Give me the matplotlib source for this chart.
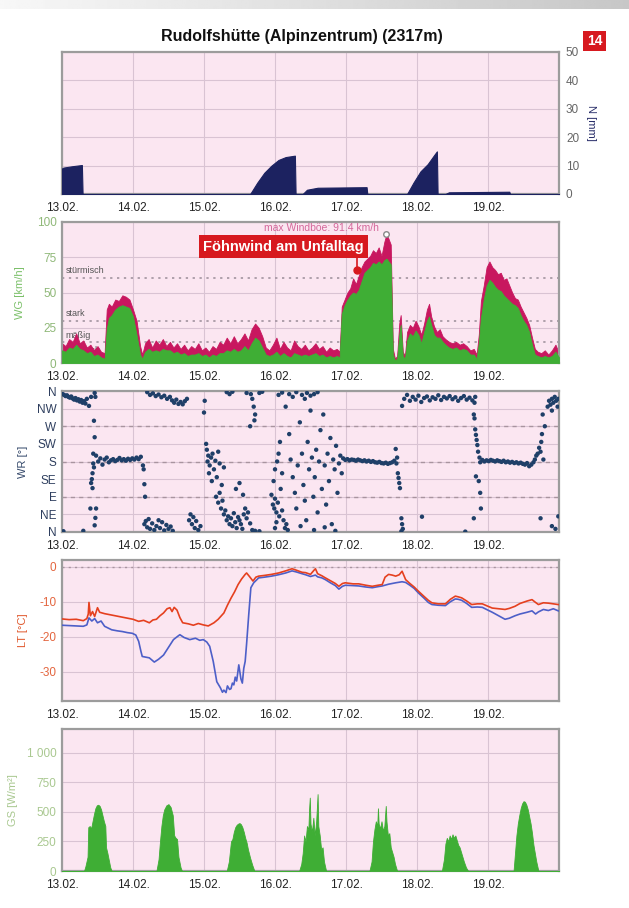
import numpy as np
import matplotlib.pyplot as plt

plt.rcParams['font.family'] = ['Liberation Sans', 'DejaVu Sans']
plt.rcParams['axes.unicode_minus'] = False

days = ['13.02.', '14.02.', '15.02.', '16.02.', '17.02.', '18.02.', '19.02.']

# Niederschlag, Tage ab 13.02. 00:00
n_t = [0.0, 0.02, 0.15, 0.28, 0.29, 2.65, 2.75, 2.85, 2.95, 3.05, 3.15, 3.28, 3.29, 3.39, 3.45, 3.6,
       4.29, 4.30, 4.86, 4.95, 5.05, 5.15, 5.25, 5.28, 5.29, 5.4, 5.45, 6.3, 6.31, 7.0]
n_mm = [9, 9.3, 9.8, 10.2, 0, 0, 4, 7.5, 10, 12, 13, 13.5, 0, 0, 1.5, 2.2,
        2.4, 0, 0, 4, 8, 10.5, 14, 15, 0, 0, 0.6, 0.8, 0, 0]

# Wind: Zeit, Böen, Mittel
wg_t = [0.0, 0.05, 0.1, 0.15, 0.2, 0.25, 0.3, 0.35, 0.4, 0.45,
        0.5, 0.55, 0.6, 0.63, 0.66, 0.7, 0.75, 0.8, 0.85, 0.9,
        0.95, 1.0, 1.05, 1.1, 1.13, 1.17, 1.22, 1.27, 1.32, 1.37,
        1.42, 1.47, 1.52, 1.57, 1.62, 1.67, 1.72, 1.77, 1.82, 1.87,
        1.92, 1.97, 2.02, 2.07, 2.12, 2.17, 2.22, 2.27, 2.32, 2.37,
        2.42, 2.47, 2.52, 2.57, 2.62, 2.67, 2.72, 2.77, 2.82, 2.87,
        2.92, 2.97, 3.02, 3.07, 3.12, 3.17, 3.22, 3.27, 3.32, 3.37,
        3.42, 3.47, 3.52, 3.57, 3.62, 3.67, 3.72, 3.77, 3.82, 3.87,
        3.91, 3.94, 3.98, 4.02, 4.06, 4.1, 4.14, 4.18, 4.22, 4.26,
        4.3, 4.34, 4.38, 4.42, 4.46, 4.5, 4.54, 4.57, 4.6, 4.63,
        4.66, 4.69, 4.72, 4.75, 4.77, 4.8, 4.83, 4.86, 4.9, 4.94,
        4.98, 5.02, 5.06, 5.1, 5.14, 5.17, 5.2, 5.24, 5.28, 5.32,
        5.36, 5.4, 5.45, 5.5, 5.55, 5.6, 5.65, 5.7, 5.75, 5.8,
        5.84, 5.87, 5.9, 5.94, 5.98, 6.02, 6.06, 6.1, 6.14, 6.18,
        6.22, 6.26, 6.3, 6.34, 6.38, 6.42, 6.46, 6.5, 6.54, 6.58,
        6.62, 6.66, 6.7, 6.75, 6.8, 6.85, 6.9, 6.95, 7.0]
wg_gust = [14, 12, 17, 15, 21, 14, 16, 11, 13, 9,
           12, 8, 7, 38, 42, 40, 45, 44, 48, 47,
           45, 38, 30, 12, 6, 14, 17, 11, 16, 13,
           17, 12, 15, 11, 14, 10, 13, 9, 12, 10,
           14, 9, 11, 8, 12, 10, 15, 13, 18, 14,
           19, 14, 17, 21, 16, 24, 28, 25, 19, 11,
           9, 13, 18, 10, 15, 11, 9, 16, 12, 10,
           13, 9, 11, 14, 10, 12, 8, 11, 9, 10,
           8, 40, 45, 50, 53, 60, 56, 62, 68, 72,
           74, 76, 80, 78, 82, 76, 86, 91.4, 88, 84,
           10, 3, 5, 28, 34, 8, 5, 22, 27, 25,
           30, 26, 20, 28, 38, 42, 33, 26, 22, 24,
           19, 17, 15, 14, 15, 13, 14, 12, 9, 10,
           6, 20, 44, 55, 68, 72, 68, 66, 63, 64,
           59, 60, 55, 50, 46, 45, 40, 36, 32, 27,
           18, 10, 8, 7, 9, 6, 9, 13, 7]
wg_mean = [9, 8, 11, 10, 13, 10, 9, 7, 8, 5,
           6, 4, 3, 24, 32, 34, 38, 40, 41, 40,
           39, 33, 20, 6, 3, 8, 10, 8, 9, 8,
           10, 9, 9, 7, 8, 6, 7, 5, 6, 6,
           7, 5, 6, 4, 6, 5, 7, 7, 9, 8,
           10, 8, 9, 12, 9, 14, 18, 16, 11, 6,
           5, 6, 8, 5, 7, 5, 4, 7, 6, 5,
           6, 5, 6, 7, 5, 6, 4, 5, 4, 5,
           4, 35, 41, 45, 48, 50, 49, 52, 58, 64,
           66, 68, 71, 70, 72, 70, 73, 74, 72, 70,
           6, 2, 3, 20, 27, 5, 3, 16, 21, 19,
           23, 20, 14, 22, 30, 33, 27, 20, 18, 18,
           15, 13, 11, 10, 11, 9, 10, 9, 6, 6,
           3, 14, 32, 45, 55, 59, 57, 54, 52, 51,
           48, 46, 44, 42, 41, 39, 34, 30, 27, 22,
           13, 6, 5, 4, 5, 4, 5, 8, 4]
wind_levels = [(60, 'stürmisch', 64), (30, 'stark', 33), (15, 'mäßig', 18), (5, 'schwach', 7)]

# Windrichtung (Tag, Grad)
wr_a = [(0.01, 352), (0.03, 350), (0.05, 347), (0.07, 349), (0.09, 345), (0.11, 343), (0.13, 346),
        (0.15, 341), (0.17, 338), (0.19, 342), (0.21, 336), (0.23, 339), (0.25, 333), (0.27, 337),
        (0.29, 330), (0.31, 334), (0.33, 328), (0.35, 340), (0.38, 322), (0.41, 345), (0.02, 2), (0.3, 3)]
wr_b = [(0.46, 355), (0.47, 345), (0.45, 284), (0.46, 242), (0.44, 175), (0.43, 150), (0.42, 135),
        (0.41, 125), (0.43, 112), (0.40, 60), (0.48, 60), (0.47, 36), (0.46, 17), (0.44, 200), (0.45, 165)]
wr_c = [(0.48, 195), (0.51, 180), (0.54, 188), (0.57, 172), (0.60, 185), (0.63, 190), (0.66, 178),
        (0.69, 183), (0.72, 186), (0.75, 181), (0.78, 184), (0.81, 189), (0.84, 183), (0.87, 186),
        (0.90, 182), (0.93, 187), (0.96, 184), (0.99, 188), (1.02, 185), (1.05, 190), (1.08, 186), (1.11, 192)]
wr_d = [(1.15, 160), (1.16, 122), (1.17, 90), (1.14, 170),
        (1.16, 20), (1.18, 28), (1.20, 12), (1.22, 33), (1.24, 8), (1.27, 22), (1.30, 5), (1.33, 15),
        (1.36, 30), (1.38, 10), (1.41, 25), (1.44, 4), (1.47, 18), (1.50, 8), (1.53, 14), (1.56, 3)]
wr_e = [(1.20, 357), (1.24, 350), (1.28, 354), (1.32, 347), (1.36, 351), (1.40, 344), (1.44, 348),
        (1.48, 340), (1.52, 345), (1.55, 336), (1.58, 330), (1.61, 338), (1.64, 327), (1.67, 332),
        (1.70, 326), (1.73, 334), (1.76, 340)]
wr_f = [(1.79, 30), (1.81, 45), (1.83, 20), (1.85, 38), (1.87, 10), (1.89, 28), (1.92, 5), (1.95, 15),
        (2.00, 305), (2.01, 335),
        (2.03, 225), (2.04, 210), (2.06, 195), (2.05, 180), (2.08, 170), (2.10, 190), (2.12, 200),
        (2.14, 160), (2.16, 182), (2.18, 140), (2.20, 205), (2.22, 175), (2.25, 120), (2.28, 165),
        (2.07, 150), (2.11, 130)]
wr_g = [(2.17, 90), (2.20, 75), (2.22, 100), (2.24, 60), (2.26, 80), (2.28, 45), (2.30, 55), (2.32, 30),
        (2.34, 40), (2.36, 20), (2.38, 35), (2.40, 15), (2.42, 48), (2.44, 25), (2.46, 10), (2.48, 38),
        (2.50, 30), (2.52, 20), (2.54, 8), (2.56, 45), (2.58, 60), (2.60, 35), (2.62, 50), (2.65, 22),
        (2.68, 5), (2.72, 3), (2.78, 2), (2.45, 110), (2.50, 125), (2.55, 95),
        (2.32, 357), (2.36, 352), (2.40, 358), (2.60, 355), (2.66, 352), (2.68, 340), (2.70, 320),
        (2.72, 300), (2.71, 285), (2.78, 355), (2.82, 358), (2.65, 270)]
wr_h = [(2.95, 95), (2.97, 70), (2.99, 60), (3.00, 85), (3.02, 50), (3.04, 75), (3.06, 40), (3.08, 110),
        (3.10, 55), (2.98, 130), (3.00, 160), (3.03, 180), (3.05, 200), (3.07, 230), (3.10, 150),
        (3.12, 30), (3.14, 10), (3.16, 20), (3.18, 5), (3.00, 10), (3.02, 25),
        (3.05, 350), (3.10, 356), (3.20, 352), (3.25, 345), (3.30, 357), (3.38, 350), (3.42, 340),
        (3.45, 355), (3.50, 348), (3.55, 352), (3.60, 357)]
wr_i = [(3.15, 320), (3.20, 250), (3.22, 185), (3.25, 140), (3.28, 100), (3.30, 60), (3.32, 170),
        (3.35, 280), (3.38, 200), (3.40, 120), (3.42, 80), (3.44, 30), (3.46, 230), (3.48, 160),
        (3.50, 310), (3.52, 190), (3.54, 90), (3.56, 140), (3.58, 210), (3.60, 50), (3.62, 180),
        (3.64, 260), (3.66, 110), (3.68, 300), (3.70, 170), (3.72, 70), (3.74, 200), (3.76, 130),
        (3.78, 240), (3.80, 20), (3.82, 185), (3.84, 160), (3.86, 220), (3.88, 100), (3.90, 175),
        (3.92, 195), (3.94, 150), (3.36, 15), (3.55, 5), (3.70, 12), (3.85, 3)]
wr_j = [(3.96, 188), (3.99, 184), (4.02, 186), (4.05, 183), (4.08, 185), (4.11, 184), (4.14, 182),
        (4.17, 185), (4.20, 183), (4.23, 181), (4.26, 183), (4.29, 180), (4.32, 182), (4.35, 179),
        (4.38, 181), (4.41, 178), (4.44, 177), (4.47, 179), (4.50, 176), (4.53, 175), (4.56, 177),
        (4.59, 174), (4.62, 176), (4.65, 178), (4.68, 182), (4.71, 175)]
wr_k = [(4.70, 212), (4.72, 190), (4.73, 150), (4.74, 138), (4.75, 125), (4.76, 112), (4.78, 35),
        (4.79, 20), (4.80, 8), (4.78, 2), (5.07, 39), (5.68, 1), (5.80, 35)]
wr_l = [(4.79, 322), (4.82, 340), (4.86, 350), (4.90, 335), (4.94, 345), (4.98, 338), (5.02, 348),
        (5.06, 332), (5.10, 342), (5.14, 346), (5.18, 336), (5.22, 344), (5.26, 340), (5.30, 349),
        (5.34, 337), (5.38, 345), (5.42, 341), (5.46, 347), (5.50, 339), (5.54, 344), (5.58, 335),
        (5.62, 342), (5.66, 347), (5.70, 338), (5.74, 343), (5.78, 336), (5.81, 330), (5.82, 345)]
wr_m = [(5.80, 300), (5.81, 290), (5.82, 262), (5.83, 248), (5.84, 235), (5.85, 222), (5.83, 142),
        (5.86, 205), (5.88, 190), (5.87, 130), (5.89, 100), (5.90, 60)]
wr_n = [(5.89, 178), (5.92, 184), (5.95, 180), (5.98, 183), (6.01, 181), (6.04, 184), (6.07, 182),
        (6.10, 180), (6.13, 183), (6.16, 181), (6.19, 179), (6.22, 182), (6.25, 178), (6.28, 180),
        (6.31, 177), (6.34, 179), (6.37, 176), (6.40, 178), (6.43, 175), (6.46, 177), (6.49, 174),
        (6.52, 172), (6.55, 176), (6.58, 168), (6.61, 172), (6.64, 178)]
wr_o = [(6.66, 185), (6.68, 195), (6.70, 200), (6.72, 215), (6.74, 205), (6.75, 230), (6.76, 250),
        (6.78, 185), (6.80, 270), (6.77, 300), (6.84, 320), (6.86, 335), (6.88, 325), (6.90, 340),
        (6.92, 330), (6.94, 345), (6.96, 335), (6.98, 320), (6.99, 340), (6.90, 310),
        (6.74, 35), (6.90, 15), (6.95, 8), (6.99, 40)]
wr_ticks = ['N', 'NE', 'E', 'SE', 'S', 'SW', 'W', 'NW', 'N']

# Lufttemperatur (rot) und zweite Kurve (blau)
lt_red = [(0.0, -14.9), (0.1, -15.1), (0.2, -15.0), (0.3, -15.4), (0.35, -14.8), (0.37, -13.5), (0.38, -10.2),
          (0.40, -14.0), (0.43, -12.8), (0.46, -14.2), (0.5, -11.7), (0.53, -13.0), (0.6, -13.4), (0.7, -13.8),
          (0.8, -14.2), (0.9, -14.6), (1.0, -15.0), (1.08, -15.6), (1.15, -15.3), (1.23, -16.0), (1.28, -15.2),
          (1.33, -15.0), (1.38, -14.0), (1.43, -13.2), (1.48, -12.0), (1.52, -11.7), (1.55, -12.8), (1.58, -11.6),
          (1.62, -12.4), (1.66, -14.5), (1.7, -16.0), (1.78, -16.3), (1.85, -16.7), (1.92, -16.2), (1.99, -16.6),
          (2.06, -16.9), (2.14, -16.0), (2.2, -15.0), (2.28, -13.2), (2.33, -11.0), (2.38, -9.0), (2.43, -7.2),
          (2.48, -5.1), (2.53, -3.5), (2.58, -2.2), (2.6, -1.8), (2.64, -2.8), (2.69, -4.1), (2.73, -3.0),
          (2.77, -2.7), (2.85, -2.5), (2.95, -2.2), (3.05, -1.8), (3.15, -1.2), (3.24, -0.6), (3.3, -1.0),
          (3.38, -1.6), (3.43, -1.7), (3.5, -2.2), (3.55, -1.0), (3.57, -0.6), (3.6, -2.0), (3.66, -2.6),
          (3.71, -3.2), (3.78, -4.0), (3.85, -4.8), (3.9, -5.6), (3.95, -4.8), (3.99, -4.6), (4.1, -4.9),
          (4.18, -4.9), (4.28, -5.3), (4.37, -5.6), (4.45, -5.3), (4.51, -5.1), (4.55, -3.0), (4.6, -2.2),
          (4.65, -2.4), (4.7, -2.7), (4.75, -2.3), (4.79, -1.3), (4.84, -3.7), (4.9, -4.8), (4.96, -5.8),
          (5.02, -7.0), (5.1, -8.5), (5.16, -9.6), (5.21, -10.3), (5.3, -10.6), (5.4, -10.6), (5.47, -9.3),
          (5.54, -8.4), (5.58, -8.6), (5.63, -8.9), (5.7, -9.8), (5.77, -10.8), (5.85, -10.6), (5.92, -10.6),
          (6.0, -11.3), (6.06, -11.8), (6.15, -12.0), (6.24, -12.2), (6.3, -11.9), (6.38, -11.3), (6.45, -10.5),
          (6.55, -9.8), (6.62, -9.4), (6.67, -10.2), (6.71, -10.8), (6.78, -10.3), (6.85, -10.4), (6.92, -10.6),
          (6.99, -10.8)]
lt_blue = [(0.0, -16.7), (0.1, -16.8), (0.2, -16.9), (0.3, -17.0), (0.35, -16.6), (0.38, -14.6), (0.42, -15.5),
           (0.46, -14.8), (0.5, -16.0), (0.55, -15.5), (0.6, -17.0), (0.7, -18.0), (0.78, -18.3), (0.85, -18.5),
           (0.92, -18.8), (0.99, -19.0), (1.04, -19.5), (1.08, -21.3), (1.11, -24.0), (1.13, -25.6), (1.18, -25.8),
           (1.23, -26.0), (1.3, -27.2), (1.36, -26.4), (1.43, -25.2), (1.5, -23.0), (1.57, -20.8), (1.62, -20.0),
           (1.66, -19.4), (1.72, -20.2), (1.8, -20.8), (1.88, -20.4), (1.94, -21.0), (1.99, -20.8), (2.04, -21.5),
           (2.08, -22.7), (2.13, -27.0), (2.18, -32.8), (2.23, -34.5), (2.26, -35.8), (2.28, -35.2), (2.31, -35.9),
           (2.33, -34.0), (2.36, -35.0), (2.38, -34.8), (2.4, -33.2), (2.42, -33.7), (2.44, -31.5), (2.46, -32.6),
           (2.49, -28.0), (2.52, -32.0), (2.54, -33.2), (2.56, -29.0), (2.58, -27.0), (2.6, -22.0), (2.63, -13.7),
           (2.66, -6.0), (2.7, -4.6), (2.77, -3.2), (2.85, -3.0), (2.95, -2.7), (3.05, -2.3), (3.15, -1.8),
           (3.24, -1.2), (3.3, -1.5), (3.38, -2.0), (3.43, -2.3), (3.5, -2.8), (3.57, -2.4), (3.6, -2.9),
           (3.66, -3.2), (3.71, -3.7), (3.78, -4.6), (3.85, -5.4), (3.9, -6.4), (3.95, -5.6), (3.99, -5.3),
           (4.1, -5.4), (4.18, -5.5), (4.28, -5.8), (4.37, -6.0), (4.45, -5.7), (4.51, -5.5), (4.6, -5.0),
           (4.7, -4.6), (4.79, -4.3), (4.84, -4.5), (4.9, -5.3), (4.96, -6.2), (5.02, -7.5), (5.1, -9.0),
           (5.16, -10.2), (5.21, -10.8), (5.3, -11.0), (5.4, -11.1), (5.47, -10.0), (5.54, -9.2), (5.58, -9.3),
           (5.63, -9.6), (5.7, -10.5), (5.77, -11.6), (5.85, -11.5), (5.92, -11.6), (6.0, -12.4), (6.06, -13.0),
           (6.15, -14.0), (6.24, -15.0), (6.3, -14.7), (6.38, -14.0), (6.45, -13.5), (6.55, -13.0), (6.62, -12.6),
           (6.67, -13.5), (6.71, -12.9), (6.78, -12.2), (6.85, -12.5), (6.92, -12.0), (6.99, -12.6)]

# Globalstrahlung
gs = [(0.0, 0), (0.31, 0), (0.33, 40), (0.36, 120), (0.37, 370), (0.39, 380), (0.41, 360), (0.43, 420),
      (0.45, 480), (0.47, 530), (0.49, 555), (0.51, 560), (0.53, 550), (0.55, 520), (0.57, 470), (0.59, 420),
      (0.61, 380), (0.62, 200), (0.64, 150), (0.66, 90), (0.68, 30), (0.70, 0),
      (1.33, 0), (1.36, 100), (1.38, 250), (1.40, 380), (1.42, 470), (1.44, 520), (1.47, 555), (1.50, 565),
      (1.53, 540), (1.56, 470), (1.58, 300), (1.60, 280), (1.62, 270), (1.64, 120), (1.67, 30), (1.69, 0),
      (2.32, 0), (2.35, 80), (2.38, 250), (2.40, 270), (2.42, 330), (2.44, 370), (2.46, 390), (2.48, 400),
      (2.50, 405), (2.52, 395), (2.54, 370), (2.56, 330), (2.58, 280), (2.60, 240), (2.62, 180), (2.65, 110),
      (2.68, 50), (2.71, 0),
      (3.34, 0), (3.37, 60), (3.39, 150), (3.41, 300), (3.43, 250), (3.45, 380), (3.47, 350), (3.48, 520),
      (3.49, 620), (3.50, 400), (3.52, 330), (3.54, 450), (3.56, 300), (3.58, 420), (3.60, 650), (3.61, 380),
      (3.63, 300), (3.65, 180), (3.67, 200), (3.69, 80), (3.72, 0),
      (4.33, 0), (4.36, 80), (4.38, 250), (4.40, 350), (4.42, 420), (4.44, 380), (4.45, 530), (4.46, 400),
      (4.48, 360), (4.50, 420), (4.52, 340), (4.54, 380), (4.56, 550), (4.57, 420), (4.59, 300), (4.61, 320),
      (4.63, 200), (4.65, 160), (4.67, 120), (4.69, 60), (4.72, 0),
      (5.35, 0), (5.38, 100), (5.40, 230), (5.42, 280), (5.44, 250), (5.46, 300), (5.48, 270), (5.50, 310),
      (5.52, 280), (5.54, 300), (5.56, 260), (5.58, 220), (5.60, 200), (5.63, 140), (5.66, 80), (5.69, 30),
      (5.72, 0),
      (6.36, 0), (6.38, 150), (6.40, 300), (6.42, 400), (6.44, 470), (6.46, 530), (6.48, 570), (6.50, 590),
      (6.52, 585), (6.54, 560), (6.56, 520), (6.58, 460), (6.60, 400), (6.62, 320), (6.64, 220), (6.66, 150),
      (6.68, 80), (6.71, 0), (7.0, 0)]

bg = '#fbe6f1'
gridc = '#d9c3d3'

fig = plt.figure(figsize=(6.29, 9.08), dpi=100)
fig.patch.set_facecolor('white')

# grauer Seitenrand oben
gax = fig.add_axes([0, 1 - 9 / 908, 1, 9 / 908])
grad = np.linspace(0.97, 0.78, 256).reshape(1, -1)
gax.imshow(grad, cmap='gray', vmin=0, vmax=1, aspect='auto')
gax.axis('off')


def panel(bottom_px, top_px):
    ax = fig.add_axes([62 / 629, 1 - bottom_px / 908, 497 / 629, (bottom_px - top_px) / 908])
    ax.set_facecolor(bg)
    ax.set_xlim(0, 7)
    ax.set_xticks(range(7))
    ax.set_xticklabels(days, fontsize=8.5, color='#222222')
    ax.grid(color=gridc, lw=0.8, zorder=0)
    ax.set_axisbelow(True)
    for s in ax.spines.values():
        s.set_color('#9c9c9c')
        s.set_linewidth(1.6)
    ax.tick_params(length=0, pad=4)
    ax.tick_params(axis='x', pad=6)
    return ax


# N
ax1 = panel(194, 52)
ax1.fill_between(n_t, n_mm, color='#1c2260', lw=0.8, edgecolor='#1c2260', zorder=3)
ax1.set_ylim(0, 50)
ax1.set_yticks([0, 10, 20, 30, 40, 50])
ax1.yaxis.tick_right()
ax1.yaxis.set_label_position('right')
ax1.tick_params(axis='y', labelsize=8.5, labelcolor='#666666', pad=5)
ax1.set_ylabel('N [mm]', rotation=-90, fontsize=8, color='#2a2f6a', labelpad=12)

# WG
ax2 = panel(363, 222)
for lvl, name, ty in wind_levels:
    ax2.axhline(lvl, color='#9a8c98', lw=1.1, ls=(0, (1.5, 3)), zorder=1)
    ax2.text(0.05, ty, name, fontsize=6.5, color='#555555', zorder=1)
ax2.fill_between(wg_t, wg_gust, color='#c8175f', lw=0.6, zorder=2)
ax2.fill_between(wg_t, wg_mean, color='#3fae35', lw=0.6, zorder=3)
ax2.set_ylim(0, 100)
ax2.set_yticks([0, 25, 50, 75, 100])
ax2.tick_params(axis='y', labelsize=8.5, labelcolor='#8fb878')
ax2.set_ylabel('WG [km/h]', fontsize=8, color='#7cc06a', labelpad=8)
imax = int(np.argmax(wg_gust))
ax2.plot(wg_t[imax], wg_gust[imax], 'o', ms=4, mfc='white', mec='#888888', mew=1, zorder=5)
ax2.text(3.65, 96, 'max Windböe: 91.4 km/h', fontsize=7.5, color='#d4679a', ha='center', va='center', zorder=5)
ax2.plot([4.16, 4.16], [66, 76], color='#d7191f', lw=1.2, zorder=6)
ax2.plot(4.16, 66, 'o', ms=5, color='#d7191f', zorder=6)
ax2.text(3.12, 82.5, 'Föhnwind am Unfalltag', fontsize=10.5, fontweight='bold', color='white',
         family=['Liberation Sans Narrow', 'Liberation Sans', 'DejaVu Sans'], ha='center', va='center', zorder=7,
         bbox=dict(boxstyle='square,pad=0.3', fc='#d7191f', ec='none'))

# WR
ax3 = panel(532, 391)
wr = np.array(wr_a + wr_b + wr_c + wr_d + wr_e + wr_f + wr_g + wr_h + wr_i + wr_j + wr_k + wr_l + wr_m + wr_n + wr_o)
ax3.set_ylim(0, 360)
ax3.set_yticks(range(0, 361, 45))
ax3.set_yticklabels(wr_ticks)
for lvl in [90, 180, 270]:
    ax3.axhline(lvl, color='#a8949f', lw=1.0, ls=(0, (3, 3)), zorder=1)
ax3.scatter(wr[:, 0], wr[:, 1], s=10, color='#1f3f68', edgecolors='none', zorder=3)
ax3.tick_params(axis='y', labelsize=8.5, labelcolor='#2e3e5e')
ax3.set_ylabel('WR [°]', fontsize=8, color='#34486a', labelpad=6)

# LT
ax4 = panel(701, 560)
red = np.array(lt_red)
blue = np.array(lt_blue)
ax4.axhline(0, color='#a8949f', lw=1.0, ls=(0, (1.5, 3)), zorder=1)
ax4.plot(blue[:, 0], blue[:, 1], color='#4d5fc8', lw=1.2, zorder=3)
ax4.plot(red[:, 0], red[:, 1], color='#e5401f', lw=1.2, zorder=4)
ax4.set_ylim(-38.3, 1.9)
ax4.set_yticks([-30, -20, -10, 0])
ax4.tick_params(axis='y', labelsize=8.5, labelcolor='#e3653e')
ax4.set_ylabel('LT [°C]', fontsize=8, color='#e0592e', labelpad=8)

# GS
ax5 = panel(871, 729)
g = np.array(gs)
ax5.fill_between(g[:, 0], g[:, 1], color='#3fae35', lw=0.6, zorder=3)
ax5.set_ylim(0, 1200)
ax5.set_yticks([0, 250, 500, 750, 1000])
ax5.set_yticklabels(['0', '250', '500', '750', '1 000'])
ax5.tick_params(axis='y', labelsize=8.5, labelcolor='#a9c890')
ax5.set_ylabel('GS [W/m²]', fontsize=8, color='#a9c890', labelpad=6)

fig.text(0.48, 1 - 37 / 908, 'Rudolfshütte (Alpinzentrum) (2317m)', fontsize=11.5, fontweight='bold',
         ha='center', va='center', color='#111111')
fig.text(594.5 / 629, 1 - 41 / 908, '14', fontsize=10, fontweight='bold', color='white', ha='center', va='center',
         family=['Liberation Sans Narrow', 'Liberation Sans', 'DejaVu Sans'],
         bbox=dict(boxstyle='square,pad=0.25', fc='#d7191f', ec='none'))

fig.savefig('out.png', dpi=100)
